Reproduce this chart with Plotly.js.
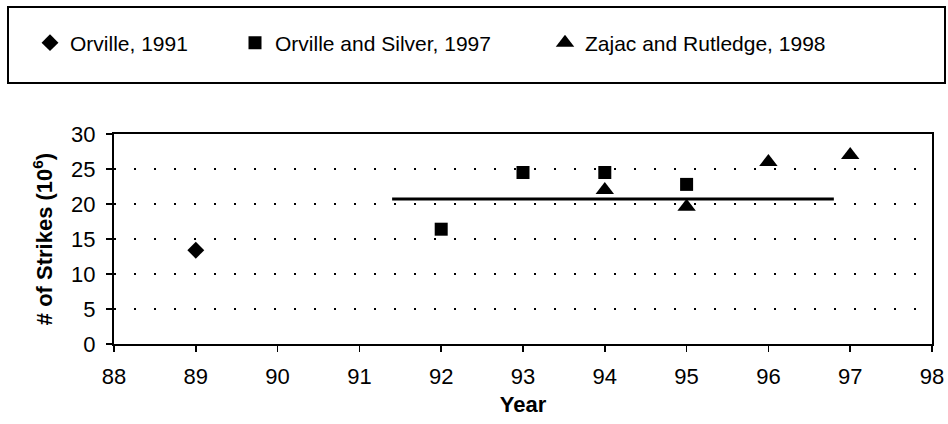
<!DOCTYPE html>
<html>
<head>
<meta charset="utf-8">
<script src="https://cdn.plot.ly/plotly-3.0.1.min.js"></script>
<style>html,body{margin:0;padding:0;background:#fff;}#chart{width:948px;height:424px;}</style>
</head>
<body>
<div id="chart"></div>
<script>
// Data
const orvilleYears = [89];
const orvilleValues = [13.4];

const orvilleSilverYears = [92, 93, 94, 95];
const orvilleSilverValues = [16.4, 24.5, 24.5, 22.8];

const zajacYears = [94, 95, 96, 97];
const zajacValues = [22.0, 19.6, 26.0, 27.0];

const meanYears = [91.4, 96.8];
const meanValues = [20.7, 20.7];

const seriesNames = ["Orville, 1991", "Orville and Silver, 1997", "Zajac and Rutledge, 1998"];
const xTicks = [88, 89, 90, 91, 92, 93, 94, 95, 96, 97, 98];
const yTicks = [0, 5, 10, 15, 20, 25, 30];

const FONT = "Liberation Sans, Arial, Helvetica, sans-serif";

const traces = [
  {
    x: orvilleYears, y: orvilleValues, name: seriesNames[0], type: "scatter", mode: "markers",
    marker: {symbol: "diamond", size: 13, color: "#000"}, legend: "legend"
  },
  {
    x: orvilleSilverYears, y: orvilleSilverValues, name: seriesNames[1], type: "scatter", mode: "markers",
    marker: {symbol: "square", size: 13, color: "#000"}, legend: "legend2"
  },
  {
    x: zajacYears, y: zajacValues, name: seriesNames[2], type: "scatter", mode: "markers",
    marker: {symbol: "triangle-up", size: 16, color: "#000"}, legend: "legend3"
  },
  {
    x: meanYears, y: meanValues, type: "scatter", mode: "lines", showlegend: false,
    line: {color: "#000", width: 3}, hoverinfo: "skip"
  }
];

function legendAt(xpx) {
  return {
    xref: "container", yref: "container",
    x: xpx / 948, xanchor: "left",
    y: (424 - 43) / 424, yanchor: "middle",
    orientation: "h", bgcolor: "rgba(0,0,0,0)", borderwidth: 0,
    font: {family: FONT, size: 21, color: "#000"},
    itemwidth: 30
  };
}

const layout = {
  width: 948, height: 424,
  margin: {l: 114, r: 16, t: 134, b: 80, pad: 0},
  paper_bgcolor: "#fff", plot_bgcolor: "#fff",
  font: {family: FONT, color: "#000"},
  showlegend: true,
  legend: legendAt(30),
  legend2: legendAt(235),
  legend3: legendAt(545),
  xaxis: {
    range: [88, 98], tickvals: xTicks, ticktext: xTicks.map(String),
    showgrid: false, zeroline: false,
    showline: true, linecolor: "#000", linewidth: 2, mirror: true,
    ticks: "outside", ticklen: 6, tickwidth: 1.5, tickcolor: "#000",
    tickfont: {family: FONT, size: 22, color: "#000"},
    ticklabelstandoff: 6,
    title: {text: "Year", font: {family: FONT, size: 22, weight: "bold", color: "#000"}, standoff: 8},
    automargin: false, fixedrange: true
  },
  yaxis: {
    range: [0, 30], tickvals: yTicks, ticktext: yTicks.map(String),
    showgrid: true, gridcolor: "#000", gridwidth: 1.5, griddash: "2px,18px",
    zeroline: false,
    showline: true, linecolor: "#000", linewidth: 2, mirror: true,
    ticks: "outside", ticklen: 6, tickwidth: 1.5, tickcolor: "#000",
    tickfont: {family: FONT, size: 22, color: "#000"},
    ticklabelstandoff: 6,
    title: {text: "# of Strikes (10<sup>6</sup>)", font: {family: FONT, size: 22, weight: "bold", color: "#000"}, standoff: 12},
    automargin: false, fixedrange: true
  },
  shapes: [
    {
      type: "rect", xref: "paper", yref: "paper",
      x0: (8 - 114) / 818, x1: (945 - 114) / 818,
      y0: (344 - 83) / 210, y1: (344 - 7) / 210,
      line: {color: "#000", width: 2}, fillcolor: "rgba(0,0,0,0)", layer: "below"
    }
  ]
};

Plotly.newPlot("chart", traces, layout, {displayModeBar: false, staticPlot: true});
</script>
</body>
</html>
